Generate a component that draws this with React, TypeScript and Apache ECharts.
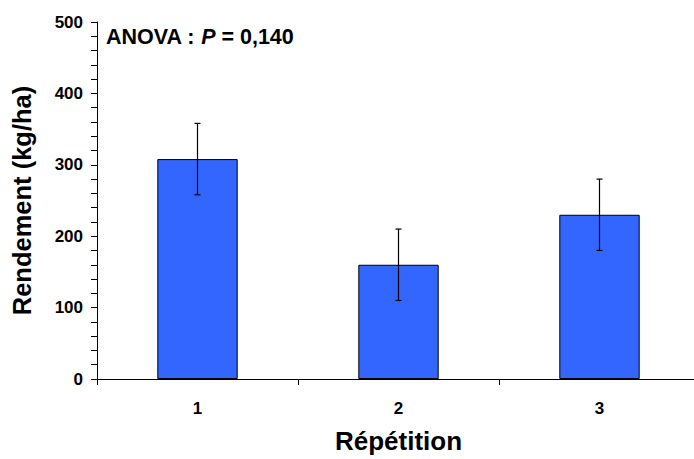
import React, { useEffect, useRef } from "react";
import * as echarts from "echarts";

const categories = ["1", "2", "3"];
const yields = [308, 160, 230];
const errors = [50, 50, 50];
const yTicks = [0, 100, 200, 300, 400, 500];
const annotation = "ANOVA : P = 0,140";

export default function App() {
  const ref = useRef<HTMLDivElement>(null);
  useEffect(() => {
    if (!ref.current) return;
    const chart = echarts.init(ref.current, null, { renderer: "svg" });
    const errData = yields.map((v, i) => [i, v - errors[i], v + errors[i]]);
    chart.setOption({
      animation: false,
      backgroundColor: "#ffffff",
      grid: { left: 97, right: 0, top: 22, bottom: 80 },
      xAxis: {
        type: "category",
        data: categories,
        boundaryGap: true,
        axisLine: { lineStyle: { color: "#000", width: 1 } },
        axisTick: { show: true, length: 6, inside: false, lineStyle: { color: "#000" } },
        axisLabel: {
          margin: 21,
          fontFamily: "Liberation Sans",
          fontWeight: "bold",
          fontSize: 17,
          color: "#000",
        },
        name: "Répétition",
        nameLocation: "middle",
        nameGap: 49,
        nameTextStyle: {
          fontFamily: "Liberation Sans",
          fontWeight: "bold",
          fontSize: 26,
          color: "#000",
        },
      },
      yAxis: {
        type: "value",
        min: yTicks[0],
        max: yTicks[yTicks.length - 1],
        interval: 100,
        axisLine: { show: true, lineStyle: { color: "#000", width: 1 } },
        axisTick: { show: true, length: 6, lineStyle: { color: "#000" } },
        minorTick: { show: true, splitNumber: 5, length: 6, lineStyle: { color: "#000" } },
        splitLine: { show: false },
        axisLabel: {
          margin: 14,
          fontFamily: "Liberation Sans",
          fontWeight: "bold",
          fontSize: 17,
          color: "#000",
        },
        name: "Rendement (kg/ha)",
        nameLocation: "middle",
        nameRotate: 90,
        nameGap: 62,
        nameTextStyle: {
          fontFamily: "Liberation Sans",
          fontWeight: "bold",
          fontSize: 25.5,
          color: "#000",
        },
      },
      series: [
        {
          type: "bar",
          data: yields,
          barWidth: "40%",
          itemStyle: { color: "#3366FF", borderColor: "#000", borderWidth: 1 },
        },
        {
          type: "custom",
          data: errData,
          z: 10,
          renderItem: (params: any, api: any) => {
            const x = api.value(0);
            const lo = api.coord([x, api.value(1)]);
            const hi = api.coord([x, api.value(2)]);
            const hw = 3;
            const style = { stroke: "#000", lineWidth: 1.2 };
            return {
              type: "group",
              children: [
                { type: "line", shape: { x1: lo[0], y1: lo[1], x2: hi[0], y2: hi[1] }, style },
                { type: "line", shape: { x1: hi[0] - hw, y1: hi[1], x2: hi[0] + hw, y2: hi[1] }, style },
                { type: "line", shape: { x1: lo[0] - hw, y1: lo[1], x2: lo[0] + hw, y2: lo[1] }, style },
              ],
            };
          },
        },
      ],
      graphic: [
        {
          type: "text",
          left: 106,
          top: 26,
          style: {
            text: "{b|ANOVA : }{i|P}{b| = 0,140}",
            rich: {
              b: { fontFamily: "Liberation Sans", fontWeight: "bold", fontSize: 21.5, fill: "#000" },
              i: { fontFamily: "Liberation Sans", fontWeight: "bold", fontStyle: "italic", fontSize: 21.5, fill: "#000" },
            },
          },
        },
      ],
    });
    return () => chart.dispose();
  }, []);
  return (
    <div style={{ position: "fixed", left: 0, top: 0, width: 694, height: 459, overflow: "hidden", background: "#fff" }}>
      <div ref={ref} style={{ width: 700, height: 459 }} />
    </div>
  );
}
